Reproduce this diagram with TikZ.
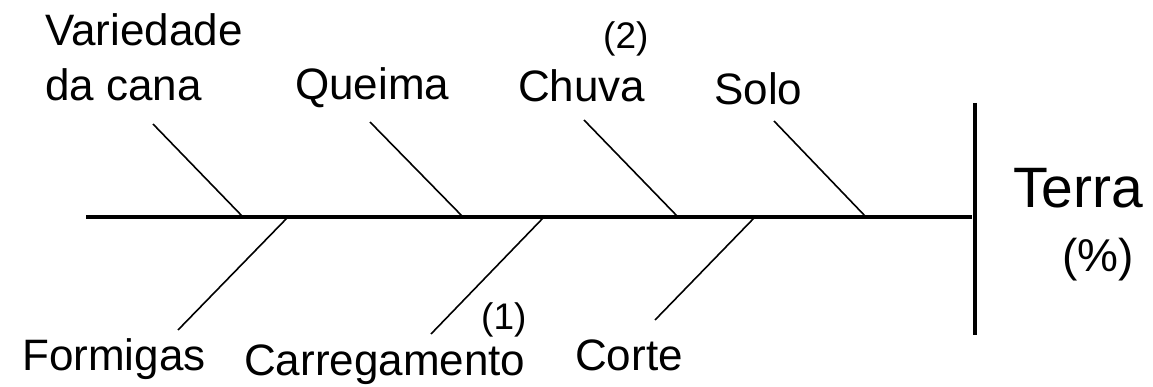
\documentclass[tikz,border=0pt]{standalone}
\usepackage{fontspec}
\setmainfont{Liberation Sans}
\begin{document}
\begin{tikzpicture}[x=1pt,y=-1pt,
  lbl/.style={inner sep=0pt, font=\fontsize{44}{55}\selectfont},
  note/.style={inner sep=0pt, font=\fontsize{37}{40}\selectfont},
  effect/.style={inner sep=0pt, font=\fontsize{57}{60}\selectfont},
  spine/.style={line width=3.5pt},
  bone/.style={line width=1.6pt}]
\useasboundingbox (0,0) rectangle (1153,387);

% main spine and the head bar
\coordinate (tail) at (86,217);
\coordinate (head) at (972,217);
\coordinate (bartop) at (975,103);
\coordinate (barbot) at (975,335);
\draw[spine] (tail) -- (head);
\draw[spine] (bartop) -- (barbot);

% effect
\node[effect, anchor=base west] (terra) at (1013,208) {Terra};
\node[lbl, font=\fontsize{46}{50}\selectfont, anchor=base west] (pct) at (1062,272) {(\%)};

% causes above the spine
\node[lbl, anchor=north west, align=left] (var) at (45,13) {Variedade\\da cana};
\node[lbl, anchor=base west] (que) at (295,100) {Queima};
\node[lbl, anchor=base west] (chu) at (518,102) {Chuva};
\node[note, anchor=base west] (n2) at (603,49) {(2)};
\node[lbl, anchor=base west] (sol) at (714,105) {Solo};

% causes below the spine
\node[lbl, anchor=base west] (for) at (22,370) {Formigas};
\node[lbl, anchor=base west] (car) at (244,375) {Carregamento};
\node[note, anchor=base west] (n1) at (481,329) {(1)};
\node[lbl, anchor=base west] (cor) at (575,370) {Corte};

% bone ends
\coordinate (varA) at (153,124); \coordinate (varB) at (243,217);
\coordinate (queA) at (370,122); \coordinate (queB) at (463,217);
\coordinate (chuA) at (584,120); \coordinate (chuB) at (678,217);
\coordinate (solA) at (774,121); \coordinate (solB) at (866,217);
\coordinate (forA) at (178,330); \coordinate (forB) at (288,217);
\coordinate (carA) at (431,334); \coordinate (carB) at (544,217);
\coordinate (corA) at (655,320); \coordinate (corB) at (755,217);

\draw[bone] (varA) -- (varB);
\draw[bone] (queA) -- (queB);
\draw[bone] (chuA) -- (chuB);
\draw[bone] (solA) -- (solB);
\draw[bone] (forA) -- (forB);
\draw[bone] (carA) -- (carB);
\draw[bone] (corA) -- (corB);
\end{tikzpicture}
\end{document}
